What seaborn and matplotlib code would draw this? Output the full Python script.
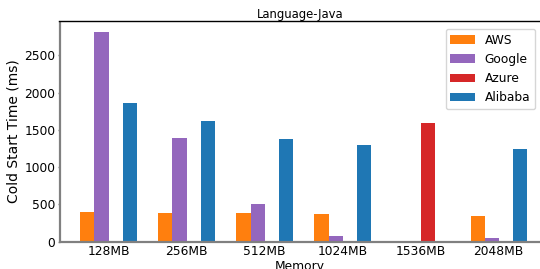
import matplotlib
matplotlib.use("Agg")
import matplotlib.pyplot as plt
import seaborn as sns
import pandas as pd

memory = ["128MB", "256MB", "512MB", "1024MB", "1536MB", "2048MB"]
providers = ["AWS", "Google", "Azure", "Alibaba"]
aws = [398, 384, 384, 371, 6, 344]
google = [2821, 1389, 505, 76, 6, 50]
azure = [6, 6, 6, 6, 1590, 6]
alibaba = [1857, 1616, 1375, 1295, 6, 1241]
colors = ["#ff7f0e", "#9467bd", "#d62728", "#1f77b4"]

rows = []
for p, vals in zip(providers, [aws, google, azure, alibaba]):
    for m, v in zip(memory, vals):
        rows.append({"Memory": m, "Provider": p, "Time": v})
df = pd.DataFrame(rows)

plt.rcParams["font.family"] = ["DejaVu Sans"]

fig = plt.figure(figsize=(5.4, 2.69), dpi=100)
ax = fig.add_axes([59.5 / 540, 1 - 241.7 / 269, (540 - 59.5) / 540, (241.7 - 21) / 269])

sns.barplot(data=df, x="Memory", y="Time", hue="Provider", order=memory,
            hue_order=providers, palette=colors, width=0.72, saturation=1,
            ax=ax, errorbar=None, linewidth=0)

ax.set_xlim(-0.628, 5.53)
ax.set_ylim(0, 2962)
ax.set_yticks([0, 500, 1000, 1500, 2000, 2500])
ax.tick_params(axis="both", labelsize=8.8, length=1.5, width=1, color="gray", pad=1.5)
ax.tick_params(axis="x", length=0, pad=2.5)
ax.set_ylabel("Cold Start Time (ms)", fontsize=10, labelpad=3)
ax.set_xlabel("Memory", fontsize=8.8, labelpad=1)
ax.set_title("Language-Java", fontsize=8.4, pad=2.5)

for s in ["left", "bottom"]:
    ax.spines[s].set_color("gray")
    ax.spines[s].set_linewidth(1.6)
    ax.spines[s].set_capstyle("butt")
ax.spines["top"].set_color("black")
ax.spines["top"].set_linewidth(1.0)
ax.spines["right"].set_visible(False)

leg = ax.legend(loc="upper right", fontsize=8.8, frameon=True,
                bbox_to_anchor=(0.995, 0.975), borderaxespad=0.2)

fig.savefig("out.png", dpi=100)
